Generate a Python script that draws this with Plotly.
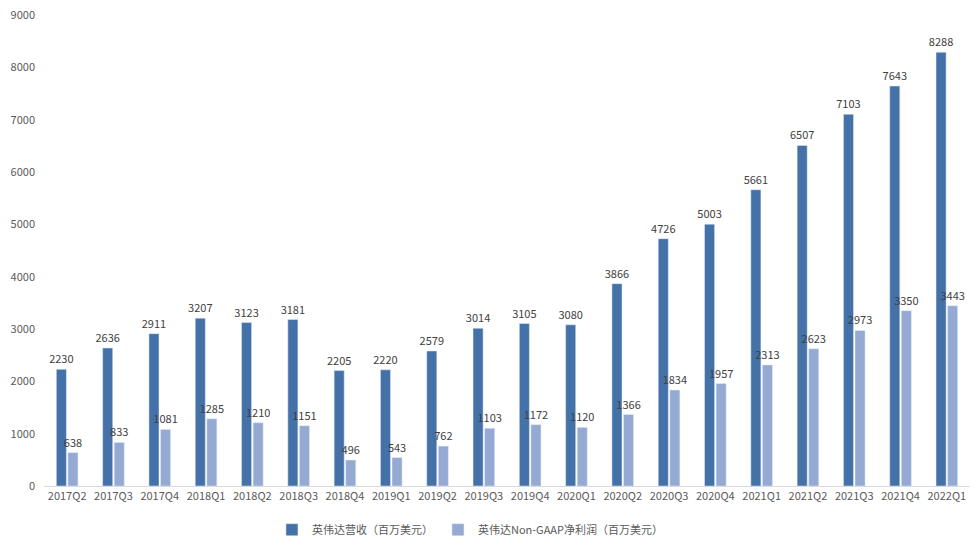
import plotly.graph_objects as go

quarters = ["2017Q2","2017Q3","2017Q4","2018Q1","2018Q2","2018Q3","2018Q4","2019Q1","2019Q2","2019Q3",
            "2019Q4","2020Q1","2020Q2","2020Q3","2020Q4","2021Q1","2021Q2","2021Q3","2021Q4","2022Q1"]
revenue = [2230,2636,2911,3207,3123,3181,2205,2220,2579,3014,3105,3080,3866,4726,5003,5661,6507,7103,7643,8288]
net_income = [638,833,1081,1285,1210,1151,496,543,762,1103,1172,1120,1366,1834,1957,2313,2623,2973,3350,3443]

font_main = "Noto Sans CJK SC"

fig = go.Figure()
fig.add_trace(go.Bar(x=quarters, y=revenue, name="英伟达营收（百万美元）",
                     marker_color="#4472A8", text=revenue, textposition="outside",
                     constraintext="none",
                     textfont=dict(size=11, color="#404040"), cliponaxis=False))
fig.add_trace(go.Bar(x=quarters, y=net_income, name="英伟达Non-GAAP净利润（百万美元）",
                     marker_color="#95AAD2", text=net_income, textposition="outside",
                     constraintext="none",
                     textfont=dict(size=11, color="#404040"), cliponaxis=False))

fig.update_layout(
    width=976, height=551,
    margin=dict(l=44, r=6, t=15, b=65, autoexpand=False),
    paper_bgcolor="white", plot_bgcolor="white",
    barmode="group", bargap=0.5, bargroupgap=0.13,
    font=dict(family=font_main, size=11, color="#595959"),
    showlegend=True,
    legend=dict(orientation="h", x=0.46, xanchor="center", y=-0.062, yanchor="top",
                font=dict(size=11, color="#595959"), itemwidth=30, traceorder="normal",
                entrywidth=0),
    xaxis=dict(showgrid=False, showline=True, linecolor="#D9D9D9", linewidth=1,
               ticks="", tickfont=dict(size=11, color="#595959")),
    yaxis=dict(range=[0, 9000], dtick=1000, showgrid=False, zeroline=False, showline=False,
               ticks="", tickfont=dict(size=11, color="#595959"), ticklabelstandoff=8),
)

fig.write_html("out.html")
